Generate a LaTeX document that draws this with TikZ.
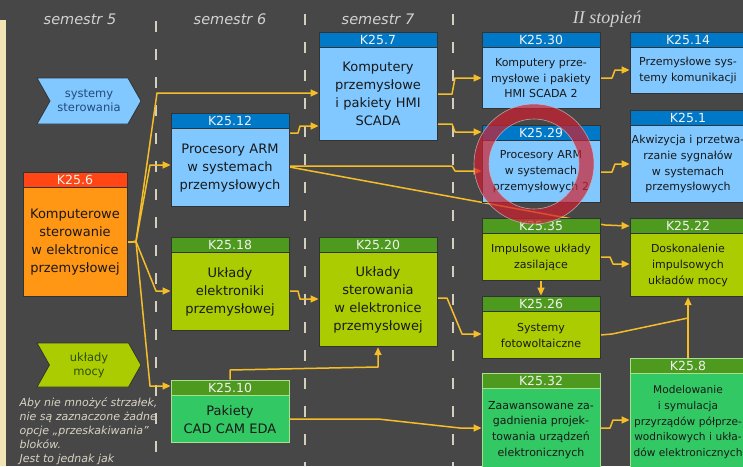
\documentclass[tikz,border=0pt]{standalone}
\usepackage{fontspec}
\setmainfont{DejaVu Sans}
\newfontfamily\stopfont{Liberation Serif}
\usetikzlibrary{positioning,arrows.meta,shapes.symbols,backgrounds}
\definecolor{bgdark}{HTML}{474747}
\definecolor{strip}{HTML}{F2E4B4}
\definecolor{bluebody}{HTML}{80C8FF}
\definecolor{bluetop}{HTML}{0078C8}
\definecolor{orangebody}{HTML}{FF9614}
\definecolor{orangetop}{HTML}{FF4614}
\definecolor{limebody}{HTML}{AACC00}
\definecolor{greentop}{HTML}{4E9A1E}
\definecolor{greenbody}{HTML}{32C864}
\definecolor{lightrim}{HTML}{A8E090}
\definecolor{wire}{HTML}{F5BE28}
\definecolor{dashgray}{HTML}{D4CEBE}
\definecolor{hdrgray}{HTML}{D2D2D2}
\definecolor{notegray}{HTML}{D8D4C4}
\definecolor{chevblue}{HTML}{244A7C}
\definecolor{chevgreen}{HTML}{2E4E0E}
\definecolor{ringred}{HTML}{D02030}

\begin{document}
\begin{tikzpicture}[x=1pt,y=-1pt,
  head/.style={rectangle,draw=black!80,line width=0.8pt,minimum height=15pt,inner sep=0pt,
    text=white!94!black,font=\fontsize{12.5}{14}\selectfont},
  body/.style={rectangle,draw=black!80,line width=0.8pt,inner xsep=1pt,inner ysep=0pt,
    align=center,text=black!90},
  bigtext/.style={font=\fontsize{13}{18}\selectfont},
  smalltext/.style={font=\fontsize{11}{15.7}\selectfont},
  midcol/.style={minimum width=118pt,text width=116pt},
  headmid/.style={minimum width=118pt},
  rightcol/.style={minimum width=116pt,text width=114pt},
  headright/.style={minimum width=116pt},
  rim/.style={draw=lightrim},
  chev/.style={signal,signal from=west,signal to=east,signal pointer angle=121,
    draw=black!80,line width=0.8pt,minimum width=104pt,minimum height=46pt,
    inner sep=1pt,align=center,font=\fontsize{11.5}{14}\selectfont},
  hdr/.style={text=hdrgray,font=\fontsize{14.5}{16}\selectfont\itshape},
  sep/.style={draw=dashgray,line width=2pt,dash pattern=on 11pt off 17pt},
  link/.style={draw=wire,line width=1.5pt,line join=round,
    -{Triangle[length=8pt,width=7pt]}},
  note/.style={text=notegray,align=left,anchor=north west,
    font=\fontsize{11}{14}\selectfont\itshape}]

\useasboundingbox (0,0) rectangle (743,466);
\clip (0,0) rectangle (743,466);

% headers
\node[hdr](sem5) at (80,19) {semestr 5};
\node[hdr](sem6) at (230,19) {semestr 6};
\node[hdr](sem7) at (378,19) {semestr 7};
\node[hdr,font=\stopfont\itshape\fontsize{18}{20}\selectfont](stop) at (607,19) {II stopień};

% semestr 5
\node[chev,fill=bluebody,text=chevblue](syst) at (89,101) {systemy\\sterowania};
\node[chev,fill=limebody,text=chevgreen,minimum height=44pt](mocy) at (89,365) {układy\\mocy};
\node[head,fill=orangetop,minimum width=104pt](k256t) at (75,179.5) {K25.6};
\node[body,bigtext,fill=orangebody,minimum width=104pt,text width=102pt,minimum height=109pt](k256)[below=0pt of k256t]
  {Komputerowe\\sterowanie\\w elektronice\\przemysłowej};
\node[note](hint) at (16,394) {Aby nie mnożyć strzałek,\\nie są zaznaczone żadne\\opcje „przeskakiwania”\\bloków.\\Jest to jednak jak};

% semestr 6
\node[head,headmid,fill=bluetop](k2512t) at (230,120.5) {K25.12};
\node[body,bigtext,midcol,fill=bluebody,minimum height=78pt](k2512)[below=0pt of k2512t]
  {Procesory ARM\\w systemach\\przemysłowych};
\node[head,headmid,fill=greentop](k2518t) at (230,244.5) {K25.18};
\node[body,bigtext,midcol,fill=limebody,minimum height=78pt](k2518)[below=0pt of k2518t]
  {Układy\\elektroniki\\przemysłowej};
\node[head,headmid,fill=greentop,rim](k2510t) at (230,387.5) {K25.10};
\node[body,bigtext,midcol,fill=greenbody,rim,minimum height=47pt](k2510)[below=0pt of k2510t]
  {Pakiety\\CAD CAM EDA};

% semestr 7
\node[head,headmid,fill=bluetop](k257t) at (378,39.5) {K25.7};
\node[body,bigtext,midcol,fill=bluebody,minimum height=93pt](k257)[below=0pt of k257t]
  {Komputery\\przemysłowe\\i pakiety HMI\\SCADA};
\node[head,headmid,fill=greentop](k2520t) at (378,244.5) {K25.20};
\node[body,bigtext,midcol,fill=limebody,minimum height=94pt](k2520)[below=0pt of k2520t]
  {Układy\\sterowania\\w elektronice\\przemysłowej};

% II stopien
\node[head,headmid,fill=bluetop](k2530t) at (541,39.5) {K25.30};
\node[body,smalltext,midcol,fill=bluebody,minimum height=61pt](k2530)[below=0pt of k2530t]
  {Komputery prze-\\mysłowe i pakiety\\HMI SCADA 2};
\node[head,headmid,fill=bluetop](k2529t) at (541,132.5) {K25.29};
\node[body,smalltext,midcol,fill=bluebody,minimum height=62pt](k2529)[below=0pt of k2529t]
  {Procesory ARM\\w systemach\\przemysłowych 2};
\node[head,headmid,fill=greentop](k2535t) at (541,225.5) {K25.35};
\node[body,smalltext,midcol,fill=limebody,minimum height=47pt](k2535)[below=0pt of k2535t]
  {Impulsowe układy\\zasilające};
\node[head,headmid,fill=greentop](k2526t) at (541,303.5) {K25.26};
\node[body,smalltext,midcol,fill=limebody,minimum height=47pt](k2526)[below=0pt of k2526t]
  {Systemy\\fotowoltaiczne};
\node[head,headmid,fill=greentop,rim](k2532t) at (541,380.5) {K25.32};
\node[body,smalltext,midcol,fill=greenbody,rim,minimum height=82pt](k2532)[below=0pt of k2532t]
  {Zaawansowane za-\\gadnienia projek-\\towania urządzeń\\elektronicznych};

\node[head,headright,fill=bluetop](k2514t) at (688,39.5) {K25.14};
\node[body,smalltext,rightcol,fill=bluebody,minimum height=46pt](k2514)[below=0pt of k2514t]
  {Przemysłowe sys-\\temy komunikacji};
\node[head,headright,fill=bluetop](k251t) at (688,117.5) {K25.1};
\node[body,smalltext,rightcol,fill=bluebody,minimum height=77pt](k251)[below=0pt of k251t]
  {Akwizycja i przetwa-\\rzanie sygnałów\\w systemach\\przemysłowych};
\node[head,headright,fill=greentop](k2522t) at (688,225.5) {K25.22};
\node[body,smalltext,rightcol,fill=limebody,minimum height=63pt](k2522)[below=0pt of k2522t]
  {Doskonalenie\\impulsowych\\układów mocy};
\node[head,headright,fill=greentop,rim](k258t) at (688,365.5) {K25.8};
\node[body,rightcol,font=\fontsize{10.6}{15.7}\selectfont,fill=greenbody,rim,minimum height=97pt](k258)[below=0pt of k258t]
  {Modelowanie\\i symulacja\\przyrządów półprze-\\wodnikowych i ukła-\\dów elektronicznych};

\coordinate (j6) at (136,241.5);
\coordinate (j8) at (k258t.north |- 0,318);

\begin{scope}[on background layer]
\clip (0,0) rectangle (743,466);
\fill[bgdark] (0,0) rectangle (743,466);
\fill[strip] (0,20) rectangle (6,466);
\draw[sep] (156,21) -- (156,466);
\draw[sep] (305,14) -- (305,466);
\draw[sep] (453,14) -- (453,466);

% connectors
\draw[link] (k256.east) -- (j6) -- (157,93) -- (k257.west |- 0,93);
\draw[link] (k256.east) -- (j6) -- (150,165) -- (k2512.west |- 0,165);
\draw[link] (k256.east) -- (j6) -- (156,291) -- (k2518.west |- 0,291);
\draw[link] (k256.east) -- (j6) -- (150,386) -- (k2510t.west |- 0,386);
\draw[link] (k2512.east |- 0,133) -- (298,133) -- (300,126) -- (k257.west |- 0,126);
\draw[link] (k2512.east |- 0,166) -- (452,166) -- (455,171) -- (k2529.west |- 0,171);
\draw[link] (k2512.east |- 0,167) -- (605,225) -- (k2522t.west |- 0,226);
\draw[link] (k2518.east |- 0,291) -- (298,291) -- (300,299) -- (k2520.west |- 0,299);
\draw[link] (k2510t.north) -- (230,370) -- (378,367) -- (k2520.south);
\draw[link] (k2510.east |- 0,419) -- (378,419) -- (460,428) -- (k2532.west |- 0,428);
\draw[link] (k257.east |- 0,94) -- (452,94) -- (455,78) -- (k2530.west |- 0,78);
\draw[link] (k257.east |- 0,124) -- (452,124) -- (455,132) -- (k2529t.west |- 0,132);
\draw[link] (k2520.east |- 0,298) -- (447,298) -- (462,334) -- (k2526.west |- 0,334);
\draw[link] (k2530.east |- 0,78) -- (612,78) -- (615,70) -- (k2514.west |- 0,70);
\draw[link] (k2529.east |- 0,172) -- (612,172) -- (615,164) -- (k251.west |- 0,164);
\draw[link] (k2535.east |- 0,257) -- (610,257) -- (613,264) -- (k2522.west |- 0,264);
\draw[link] (k2535.south) -- (k2526t.north);
\draw[link,-] (k2526.east |- 0,335) -- (612,334) -- (j8);
\draw[link] (k258t.north) -- (k2522.south);
\draw[link] (k2532.east |- 0,428) -- (610,428) -- (613,420) -- (k258.west |- 0,420);
\end{scope}

% marker ring
\draw[draw=ringred,line width=15pt,opacity=0.7] (534,164) circle[radius=52.5pt];
\draw[draw=gray!50,line width=0.6pt,opacity=0.8] (534,164) circle[radius=60pt] circle[radius=45pt];

\end{tikzpicture}
\end{document}
